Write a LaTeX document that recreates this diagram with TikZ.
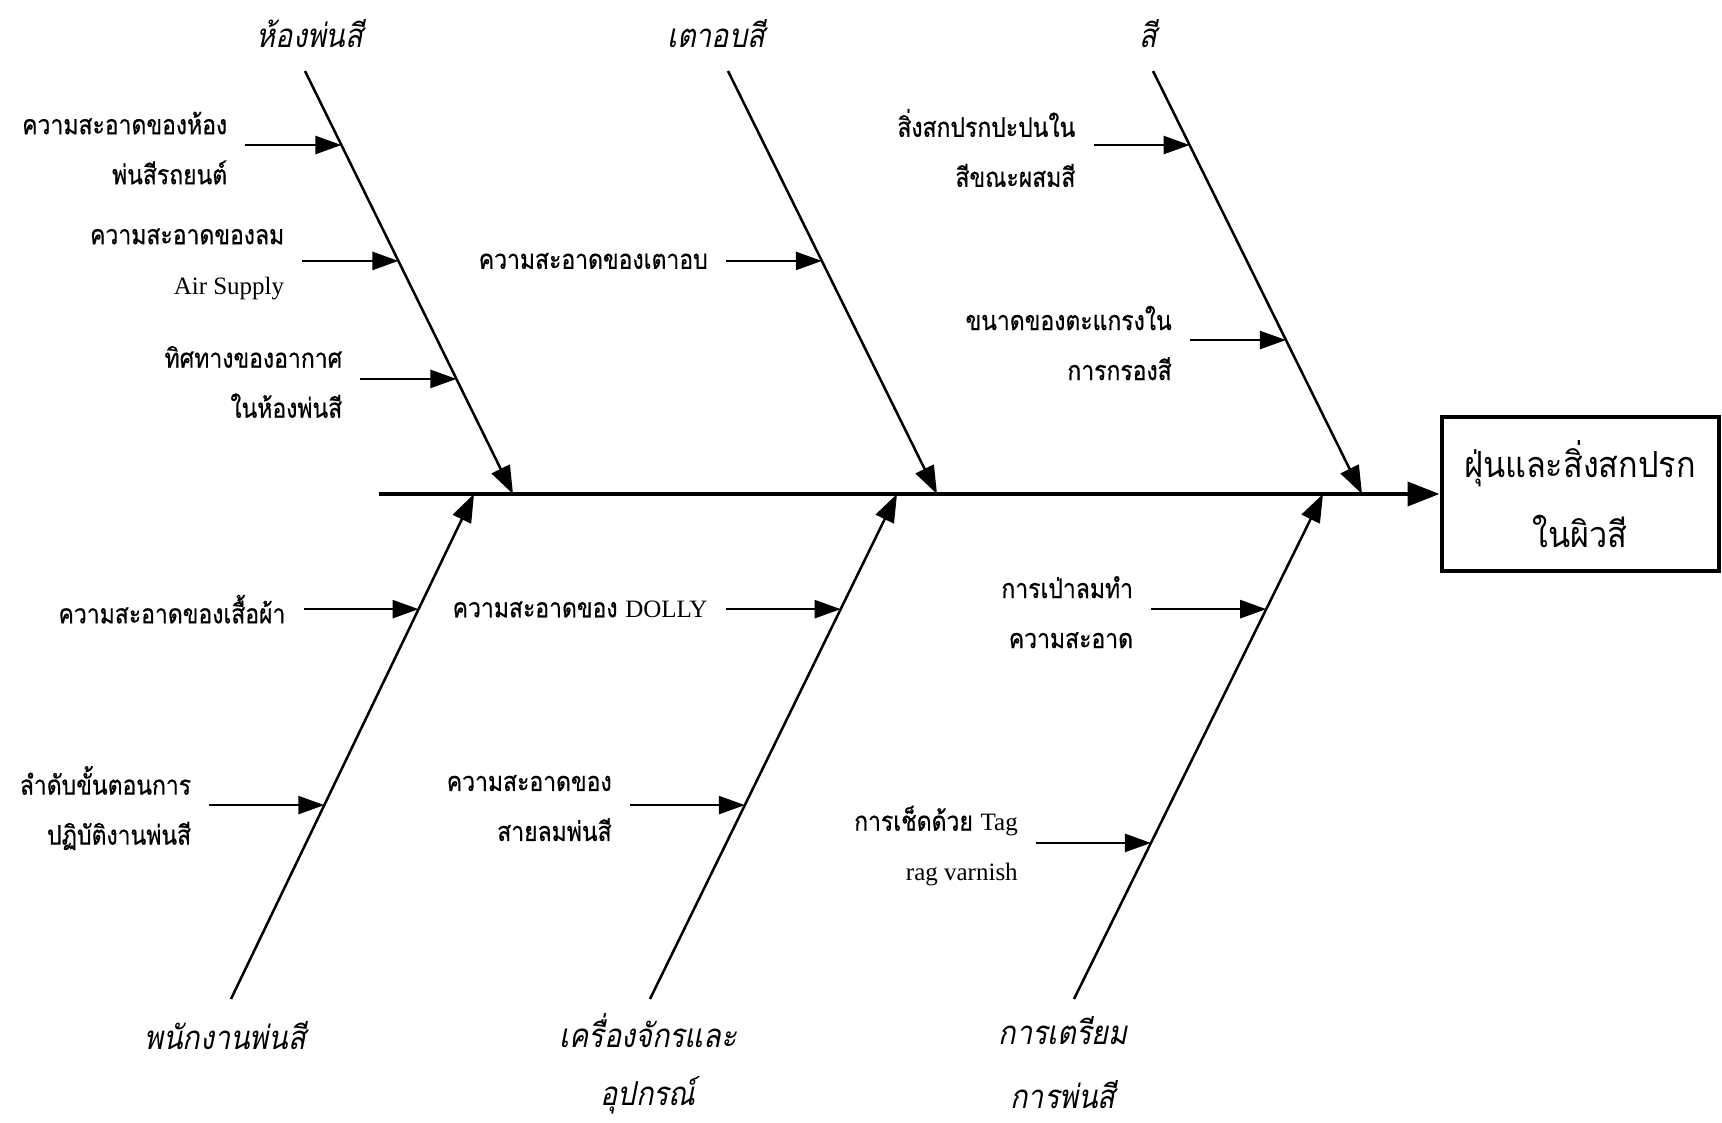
\documentclass[tikz,border=0pt]{standalone}
\usepackage{fontspec}
\setmainfont{Liberation Serif}
\newfontfamily\thai[Script=Thai,FakeStretch=0.85,FakeBold=0.6]{Loma}
\newfontfamily\thaibox[Script=Thai,FakeStretch=0.9]{Loma}
\newfontfamily\thaiit[Script=Thai,FakeSlant=0.2,FakeStretch=0.87]{Loma}
\usetikzlibrary{arrows.meta,calc}
\tikzset{
  bone/.style={line width=2.5pt,-{Triangle[length=28pt,width=20pt]}},
  spine/.style={line width=4pt,-{Triangle[length=32pt,width=24pt]}},
  sub/.style={line width=2.5pt,-{Triangle[length=26pt,width=18pt]}},
  lbl/.style={font=\thai\fontsize{27}{50}\selectfont,align=right,anchor=east,inner sep=0pt},
  ttl/.style={font=\thaiit\fontsize{33}{60}\selectfont,align=center,inner sep=0pt},
  effbox/.style={draw,line width=4pt,minimum width=277pt,minimum height=154pt,inner sep=0pt,
    font=\thaibox\fontsize{36}{70}\selectfont,align=center}
}
\newcommand{\lat}[1]{{\rmfamily\fontsize{25}{50}\selectfont #1}}
\begin{document}
\begin{tikzpicture}[x=1pt,y=-1pt]
\useasboundingbox (0,0) rectangle (1722,1123);
% effect box and spine
\node[effbox] (eff) at (1580,494) {ฝุ่นและสิ่งสกปรก\\ในผิวสี};
\coordinate (spL) at (379,494);
\draw[spine] (spL) -- (eff.west);
% top bones
\coordinate (T1a) at (305,71);  \coordinate (T1b) at (513,494);
\coordinate (T2a) at (728,71);  \coordinate (T2b) at (937,494);
\coordinate (T3a) at (1153,71); \coordinate (T3b) at (1362,494);
\draw[bone] (T1a) -- (T1b);
\draw[bone] (T2a) -- (T2b);
\draw[bone] (T3a) -- (T3b);
% bottom bones
\coordinate (B1a) at (231,999);  \coordinate (B1b) at (474,494);
\coordinate (B2a) at (650,999);  \coordinate (B2b) at (897,494);
\coordinate (B3a) at (1074,999); \coordinate (B3b) at (1323,494);
\draw[bone] (B1a) -- (B1b);
\draw[bone] (B2a) -- (B2b);
\draw[bone] (B3a) -- (B3b);
% titles
\node[ttl] (t1) at (310,34) {ห้องพ่นสี};
\node[ttl] (t2) at (716,34) {เตาอบสี};
\node[ttl] (t3) at (1148,34) {สี};
\node[ttl] (b1) at (225,1036) {พนักงานพ่นสี};
\node[ttl] (b2a) at (648,1031) {เครื่องจักรและ};
\node[ttl] (b2b) at (648,1095) {อุปกรณ์};
\node[ttl] (b3a) at (1063,1031) {การเตรียม};
\node[ttl] (b3b) at (1063,1095) {การพ่นสี};
% points on bones
\path (T1a) -- (T1b) coordinate[pos=0.175] (p11) coordinate[pos=0.449] (p12) coordinate[pos=0.728] (p13);
\path (T2a) -- (T2b) coordinate[pos=0.449] (p21);
\path (T3a) -- (T3b) coordinate[pos=0.175] (p31) coordinate[pos=0.636] (p32);
\path (B1a) -- (B1b) coordinate[pos=0.772] (q11) coordinate[pos=0.384] (q12);
\path (B2a) -- (B2b) coordinate[pos=0.772] (q21) coordinate[pos=0.384] (q22);
\path (B3a) -- (B3b) coordinate[pos=0.772] (q31) coordinate[pos=0.309] (q32);
% start points of sub arrows
\coordinate (s11) at ($(p11)+(-96,0)$);
\coordinate (s12) at ($(p12)+(-96,0)$);
\coordinate (s13) at ($(p13)+(-96,0)$);
\coordinate (s21) at ($(p21)+(-96,0)$);
\coordinate (s31) at ($(p31)+(-96,0)$);
\coordinate (s32) at ($(p32)+(-96,0)$);
\coordinate (r11) at ($(q11)+(-115,0)$);
\coordinate (r12) at ($(q12)+(-115,0)$);
\coordinate (r21) at ($(q21)+(-115,0)$);
\coordinate (r22) at ($(q22)+(-115,0)$);
\coordinate (r31) at ($(q31)+(-115,0)$);
\coordinate (r32) at ($(q32)+(-115,0)$);
\foreach \a/\b in {s11/p11,s12/p12,s13/p13,s21/p21,s31/p31,s32/p32,r11/q11,r12/q12,r21/q21,r22/q22,r31/q31,r32/q32}
  \draw[sub] (\a) -- (\b);
% labels
\node[lbl] (l11) at ($(s11)+(-18,3)$) {ความสะอาดของห้อง\\พ่นสีรถยนต์};
\node[lbl] (l12) at ($(s12)+(-18,3)$) {ความสะอาดของลม\\\lat{Air Supply}};
\node[lbl] (l13) at ($(s13)+(-18,3)$) {ทิศทางของอากาศ\\ในห้องพ่นสี};
\node[lbl] (l21) at ($(s21)+(-18,0)$) {ความสะอาดของเตาอบ};
\node[lbl] (l31) at ($(s31)+(-18,3)$) {สิ่งสกปรกปะปนใน\\สีขณะผสมสี};
\node[lbl] (l32) at ($(s32)+(-18,3)$) {ขนาดของตะแกรงใน\\การกรองสี};
\node[lbl] (m11) at ($(r11)+(-18,0)$) {ความสะอาดของเสื้อผ้า};
\node[lbl] (m12) at ($(r12)+(-18,3)$) {ลำดับขั้นตอนการ\\ปฏิบัติงานพ่นสี};
\node[lbl] (m21) at ($(r21)+(-18,0)$) {ความสะอาดของ \lat{DOLLY}};
\node[lbl] (m22) at ($(r22)+(-18,3)$) {ความสะอาดของ\\สายลมพ่นสี};
\node[lbl] (m31) at ($(r31)+(-18,3)$) {การเป่าลมทำ\\ความสะอาด};
\node[lbl] (m32) at ($(r32)+(-18,3)$) {การเช็ดด้วย \lat{Tag}\\\lat{rag varnish}};
\end{tikzpicture}
\end{document}
